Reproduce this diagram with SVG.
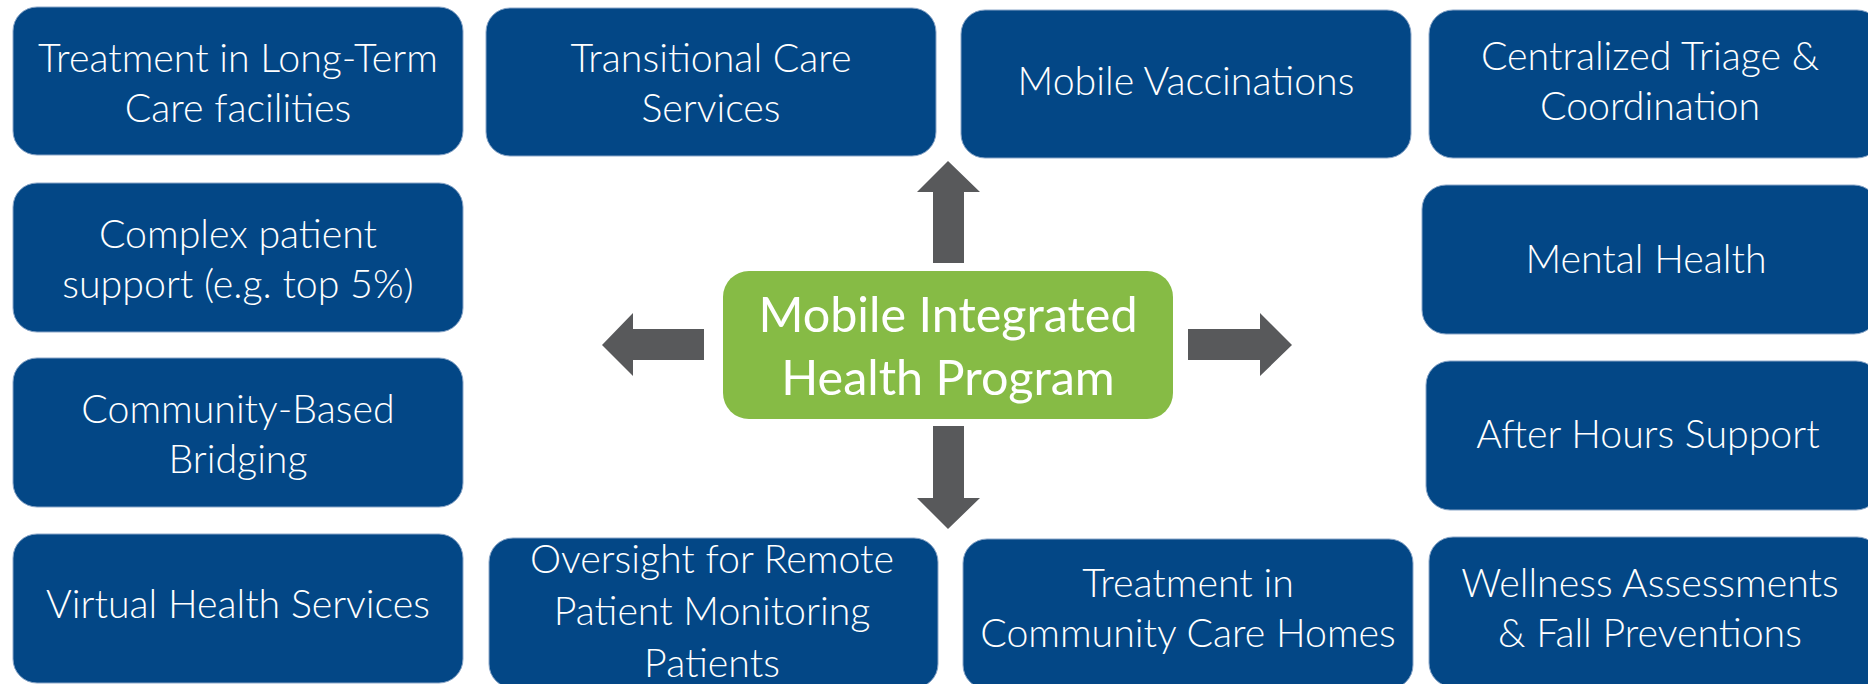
<svg xmlns="http://www.w3.org/2000/svg" width="1868" height="684" viewBox="0 0 1868 684">
<style>
.box{fill:#034786;stroke:#8aa6c8;stroke-width:1}
.t{fill:#ffffff;font-family:"Lato","Open Sans","Liberation Sans",sans-serif;font-weight:300;font-size:39.3px;text-anchor:middle}
.c{fill:#86bb45}
.ct{fill:#ffffff;font-family:"Lato","Open Sans","Liberation Sans",sans-serif;font-weight:400;font-size:48.5px;text-anchor:middle}
.arr{fill:#58595b}
</style>
<rect width="1868" height="684" fill="#ffffff"/>
<g id="n1"><rect class="box" x="13" y="7" width="450" height="148" rx="24"/><text class="t" x="238" y="72">Treatment in Long-Term</text><text class="t" x="238" y="122">Care facilities</text></g>
<g id="n2"><rect class="box" x="486" y="8" width="450" height="148" rx="24"/><text class="t" x="711" y="72">Transitional Care</text><text class="t" x="711" y="122">Services</text></g>
<g id="n3"><rect class="box" x="961" y="10" width="450" height="148" rx="24"/><text class="t" x="1186" y="95">Mobile Vaccinations</text></g>
<g id="n4"><rect class="box" x="1429" y="10" width="452" height="148" rx="24"/><text class="t" x="1650" y="70">Centralized Triage &amp;</text><text class="t" x="1650" y="120">Coordination</text></g>
<g id="n5"><rect class="box" x="13" y="183" width="450" height="149" rx="24"/><text class="t" x="238" y="248">Complex patient</text><text class="t" x="238" y="298">support (e.g. top 5%)</text></g>
<g id="n6"><rect class="box" x="1422" y="185" width="456" height="149" rx="24"/><text class="t" x="1646" y="273">Mental Health</text></g>
<g id="n7"><rect class="box" x="13" y="358" width="450" height="149" rx="24"/><text class="t" x="238" y="423">Community-Based</text><text class="t" x="238" y="473">Bridging</text></g>
<g id="n8"><rect class="box" x="1426" y="361" width="454" height="149" rx="24"/><text class="t" x="1648" y="448">After Hours Support</text></g>
<g id="n9"><rect class="box" x="13" y="534" width="450" height="149" rx="24"/><text class="t" x="238" y="618">Virtual Health Services</text></g>
<g id="n10"><rect class="box" x="489" y="538" width="449" height="150" rx="24"/><text class="t" x="712" y="573">Oversight for Remote</text><text class="t" x="712" y="625">Patient Monitoring</text><text class="t" x="712" y="677">Patients</text></g>
<g id="n11"><rect class="box" x="963" y="539" width="450" height="150" rx="24"/><text class="t" x="1188" y="597">Treatment in</text><text class="t" x="1188" y="647">Community Care Homes</text></g>
<g id="n12"><rect class="box" x="1429" y="537" width="452" height="150" rx="24"/><text class="t" x="1650" y="597">Wellness Assessments</text><text class="t" x="1650" y="647">&amp; Fall Preventions</text></g>
<g id="center"><rect class="c" x="723" y="271" width="450" height="148" rx="26"/><text class="ct" x="948" y="332">Mobile Integrated</text><text class="ct" x="948" y="395">Health Program</text></g>
<g id="connectors">
<polygon class="arr" points="933,263 933,192 917,192 948,161 980,192 964,192 964,263"/>
<polygon class="arr" points="933,426 933,498 917,498 948,529 980,498 964,498 964,426"/>
<polygon class="arr" points="704,329 633,329 633,313 602,345 633,376 633,360 704,360"/>
<polygon class="arr" points="1188,329 1260,329 1260,313 1292,345 1260,376 1260,360 1188,360"/>
</g>
</svg>
